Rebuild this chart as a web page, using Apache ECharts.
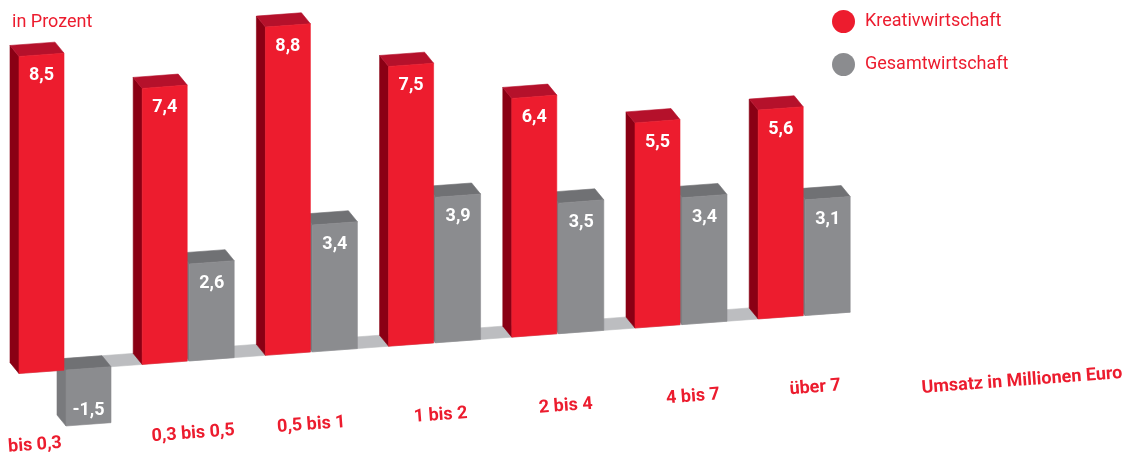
<!DOCTYPE html>
<html>
<head>
<meta charset="utf-8">
<script src="https://cdn.jsdelivr.net/npm/echarts@6/dist/echarts.min.js"></script>
<style>
  html, body { margin: 0; padding: 0; background: #ffffff; }
  #chart { width: 1134px; height: 454px; }
</style>
</head>
<body>
<div id="chart"></div>
<script>
// Umsatzentwicklung nach Größenklassen, in Prozent
const categories = ['bis 0,3', '0,3 bis 0,5', '0,5 bis 1', '1 bis 2', '2 bis 4', '4 bis 7', 'über 7'];
const kreativwirtschaft = [8.5, 7.4, 8.8, 7.5, 6.4, 5.5, 5.6];
const gesamtwirtschaft = [-1.5, 2.6, 3.4, 3.9, 3.5, 3.4, 3.1];
const seriesNames = ['Kreativwirtschaft', 'Gesamtwirtschaft'];
const unitLabel = 'in Prozent';
const axisTitle = 'Umsatz in Millionen Euro';

// Look of the pseudo-3D boxes
const RED = { front: '#ed1c2e', top: '#b5112b', side: '#8a0014' };
const GREY = { front: '#8b8c8f', top: '#707174', side: '#797a7d' };
const FLOOR = '#bcbdc0';
const TEXT_RED = '#ec1c2e';
const FONT = 'Roboto, "Noto Sans", sans-serif';

const SLOPE = -0.0738;          // tilt of the floor line (px rise per px to the right)
const TILT = Math.atan(-SLOPE); // same tilt as a text rotation
const DEPTH = [-9, -11];        // offset of the back faces
const BAR_W = 45;
const LABEL_DX = [-29, 6, 1, 7, 9, 13, 12];
const LABEL_DY = 73;

// value-space point -> tilted screen point
function project(api, i, dx, v) {
  const p = api.coord([i, v]);
  const x0 = api.coord([0, 0])[0];
  const x = p[0] + dx;
  return [x, p[1] + SLOPE * (x - x0)];
}
function shift(p) { return [p[0] + DEPTH[0], p[1] + DEPTH[1]]; }
function face(points, fill) {
  return { type: 'polygon', shape: { points: points },
           style: { fill: fill, stroke: fill, lineWidth: 0.6 } };
}

function boxRenderer(colors, xl, xr) {
  return function (params, api) {
    const i = api.value(0);
    const v = api.value(1);
    const hi = Math.max(0, v), lo = Math.min(0, v);
    const fl = project(api, i, xl, lo), fr = project(api, i, xr, lo);
    const tl = project(api, i, xl, hi), tr = project(api, i, xr, hi);
    const mid = project(api, i, (xl + xr) / 2, v);
    const children = [
      face([fl, tl, shift(tl), shift(fl)], colors.side),
      face([tl, tr, shift(tr), shift(tl)], colors.top),
      face([fl, fr, tr, tl], colors.front),
      {
        type: 'text',
        style: {
          text: v.toFixed(1).replace('.', ','),
          x: mid[0], y: v >= 0 ? mid[1] + 21 : mid[1] - 14,
          align: 'center', verticalAlign: 'middle',
          fill: '#ffffff', fontSize: 18, fontWeight: 'bold', fontFamily: FONT
        }
      }
    ];
    return { type: 'group', children: children };
  };
}

const chart = echarts.init(document.getElementById('chart'), null, { renderer: 'canvas' });

chart.setOption({
  animation: false,
  backgroundColor: '#ffffff',
  grid: { left: 2.4, right: 269.2, top: 34.5, bottom: 9.2 },
  xAxis: { type: 'category', data: categories, show: false },
  yAxis: { type: 'value', min: -2, max: 9, show: false },
  legend: {
    data: seriesNames,
    orient: 'vertical',
    left: 832, top: 10, padding: 0,
    icon: 'circle', itemWidth: 23, itemHeight: 23, itemGap: 20,
    textStyle: { color: TEXT_RED, fontSize: 18, fontFamily: FONT, padding: [2, 0, 0, 5] }
  },
  graphic: [
    {
      type: 'text', left: 12, top: 13,
      style: { text: unitLabel, fill: TEXT_RED, fontSize: 18, fontFamily: FONT }
    },
    {
      type: 'text', x: 1022, y: 381, rotation: TILT,
      style: {
        text: axisTitle, x: 0, y: 0, align: 'center', verticalAlign: 'middle',
        fill: TEXT_RED, fontSize: 18, fontWeight: 'bold', fontFamily: FONT
      }
    }
  ],
  series: [
    {
      // floor strip behind the boxes
      type: 'custom', name: 'floor', silent: true, z: 1,
      data: [[0, categories.length - 1]],
      renderItem: function (params, api) {
        const a = project(api, api.value(0), -BAR_W, 0);
        const b = project(api, api.value(1), BAR_W + 2, 0);
        return face([a, b, shift(b), shift(a)], FLOOR);
      }
    },
    {
      type: 'custom', name: seriesNames[1], silent: true, z: 2,
      itemStyle: { color: GREY.front },
      encode: { x: 0, y: 1 },
      data: gesamtwirtschaft.map((v, i) => [i, v]),
      renderItem: boxRenderer(GREY, 2, BAR_W + 2)
    },
    {
      type: 'custom', name: seriesNames[0], silent: true, z: 3,
      itemStyle: { color: RED.front },
      encode: { x: 0, y: 1 },
      data: kreativwirtschaft.map((v, i) => [i, v]),
      renderItem: boxRenderer(RED, -BAR_W, 0)
    },
    {
      // category names along the tilted floor
      type: 'custom', name: 'categories', silent: true, z: 4,
      data: categories.map((c, i) => [i, 0]),
      renderItem: function (params, api) {
        const i = api.value(0);
        const p = project(api, i, LABEL_DX[i], 0);
        return {
          type: 'text', x: p[0], y: p[1] + LABEL_DY, rotation: TILT,
          style: {
            text: categories[i], x: 0, y: 0, align: 'center', verticalAlign: 'middle',
            fill: TEXT_RED, fontSize: 18, fontWeight: 'bold', fontFamily: FONT
          }
        };
      }
    }
  ]
});
</script>
</body>
</html>
